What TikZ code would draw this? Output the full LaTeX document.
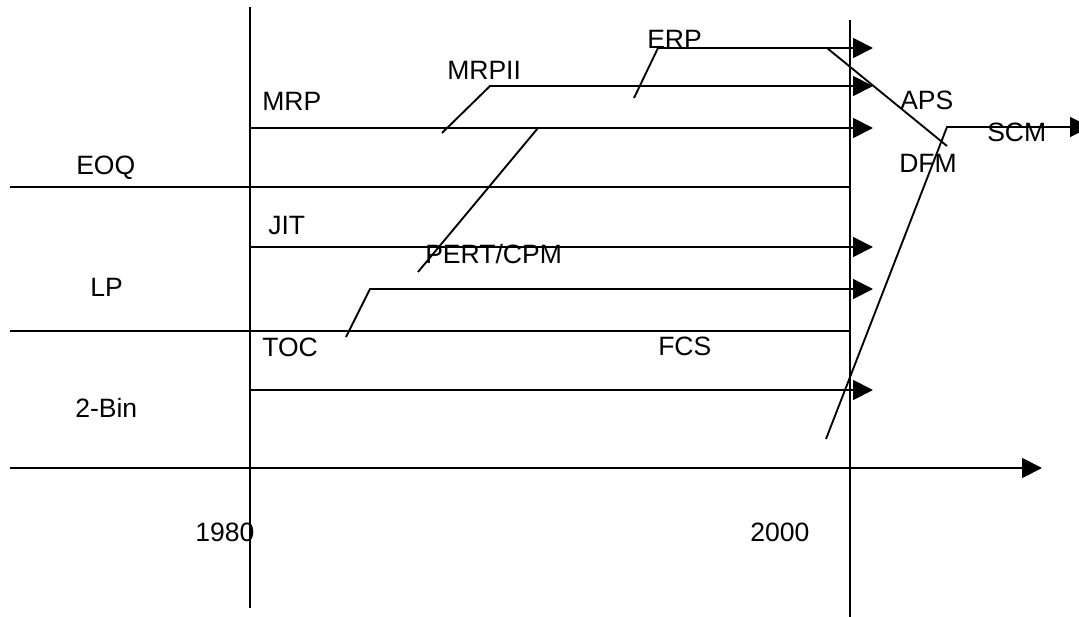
\documentclass[tikz,border=0pt]{standalone}
\usepackage{fontspec}
\setmainfont{Liberation Sans}
\usepackage{tikz}
\usetikzlibrary{arrows.meta}
\newcommand{\stagefont}{\fontsize{19.9}{24}\selectfont}
\tikzset{
  stage/.style={anchor=base west,inner sep=0pt,font=\stagefont},
  track/.style={line width=1.4pt,draw=black},
  flow/.style={track,-{Triangle[length=15pt,width=15pt]}}
}

\begin{document}
\begin{tikzpicture}[x=0.75pt,y=-0.75pt]
  \useasboundingbox (0,0) rectangle (1079,617);
  % time axis and the two year marks
  \coordinate (axisL) at (10,468);
  \coordinate (axisR) at (1042,468);
  \coordinate (y80top) at (250,7);
  \coordinate (y80bot) at (250,608);
  \coordinate (y00top) at (850,20);
  \coordinate (y00bot) at (850,617);
  \draw[flow] (axisL) -- (axisR);
  \draw[track] (y80top) -- (y80bot);
  \draw[track] (y00top) -- (y00bot);
  % bends of the streams
  \coordinate (erpA) at (634,98);  \coordinate (erpB) at (658,48);  \coordinate (erpC) at (873,48);
  \coordinate (mrpiiA) at (442,133); \coordinate (mrpiiB) at (490,86); \coordinate (mrpiiC) at (873,86);
  \coordinate (mrpA) at (250,128); \coordinate (mrpC) at (873,128);
  \coordinate (pertA) at (418,272); \coordinate (pertB) at (538,128);
  \coordinate (eoqA) at (10,187);  \coordinate (eoqC) at (850,187);
  \coordinate (jitA) at (250,247); \coordinate (jitC) at (873,247);
  \coordinate (tocA) at (346,337); \coordinate (tocB) at (370,289); \coordinate (tocC) at (873,289);
  \coordinate (lpA) at (10,331);   \coordinate (lpC) at (850,331);
  \coordinate (fcsA) at (250,390); \coordinate (fcsC) at (873,390);
  \coordinate (apsA) at (827,48);  \coordinate (apsB) at (947,146);
  \coordinate (scmA) at (826,439); \coordinate (scmB) at (947,127); \coordinate (scmC) at (1090,127);
  \draw[flow] (erpA) -- (erpB) -- (erpC);
  \draw[flow] (mrpiiA) -- (mrpiiB) -- (mrpiiC);
  \draw[flow] (mrpA) -- (mrpC);
  \draw[track] (pertA) -- (pertB);
  \draw[track] (eoqA) -- (eoqC);
  \draw[flow] (jitA) -- (jitC);
  \draw[flow] (tocA) -- (tocB) -- (tocC);
  \draw[track] (lpA) -- (lpC);
  \draw[flow] (fcsA) -- (fcsC);
  \draw[track] (apsA) -- (apsB);
  \draw[flow] (scmA) -- (scmB) -- (scmC);
  % labels
  \node[stage] (erp) at (647,49) {ERP};
  \node[stage] (mrpii) at (447,80) {MRPII};
  \node[stage] (mrp) at (262,111) {MRP};
  \node[stage] (eoq) at (76,174) {EOQ};
  \node[stage] (jit) at (268,234) {JIT};
  \node[stage] (pert) at (425,263) {PERT/CPM};
  \node[stage] (lp) at (90,296) {LP};
  \node[stage] (toc) at (262,356) {TOC};
  \node[stage] (fcs) at (658,355) {FCS};
  \node[stage] (twobin) at (75,417) {2-Bin};
  \node[stage] (yr80) at (195,541) {1980};
  \node[stage] (yr00) at (750,541) {2000};
  \node[stage] (aps) at (900,110) {APS};
  \node[stage] (dfm) at (899,172) {DFM};
  \node[stage] (scm) at (987,142) {SCM};
\end{tikzpicture}
\end{document}
